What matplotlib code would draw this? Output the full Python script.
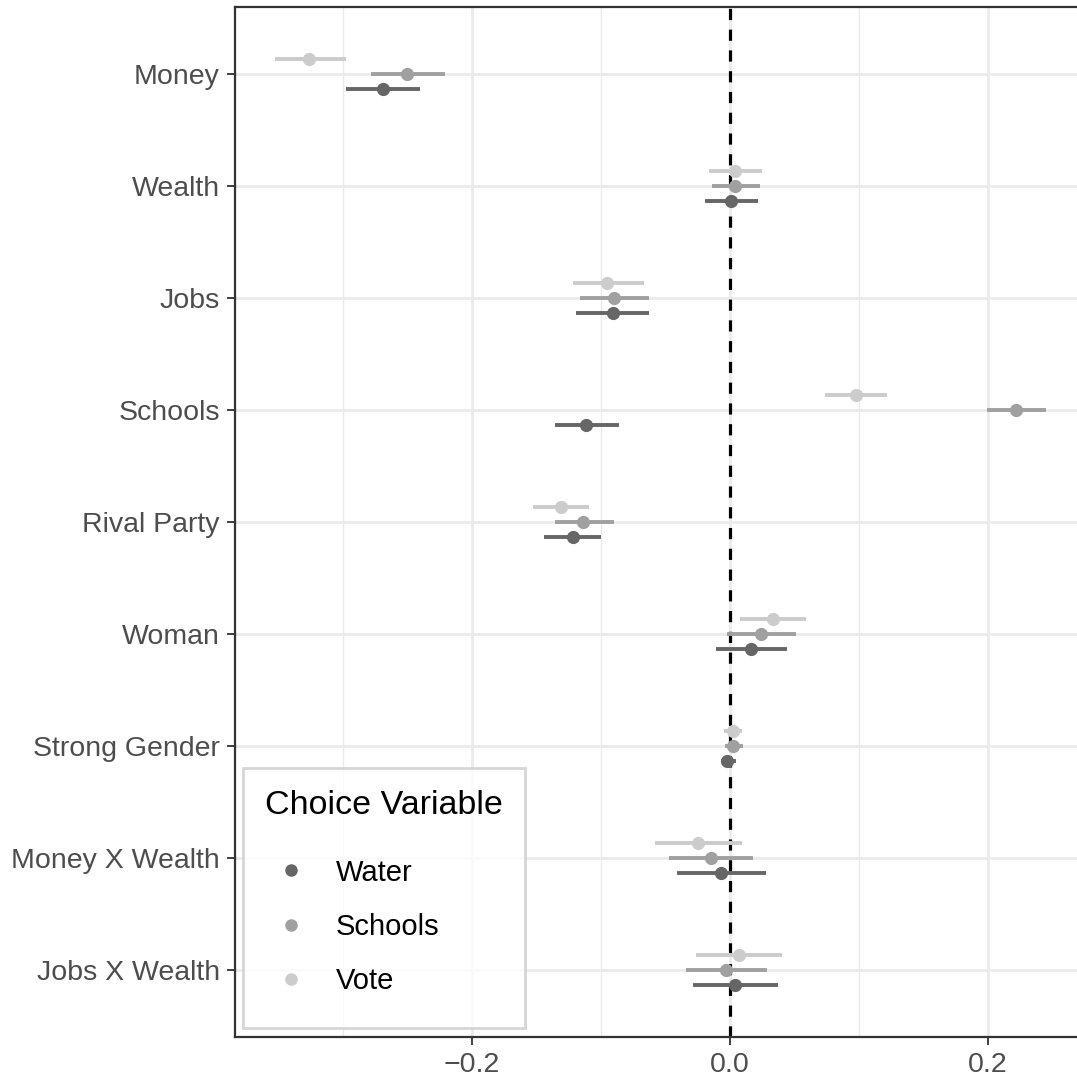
import numpy as np
import matplotlib.pyplot as plt
from matplotlib.lines import Line2D

# DATA

terms = ['Money', 'Wealth', 'Jobs', 'Schools', 'Rival Party', 'Woman',
         'Strong Gender', 'Money X Wealth', 'Jobs X Wealth']

water_est = [-0.269, 0.001, -0.091, -0.112, -0.122, 0.016, -0.002, -0.007, 0.004]
water_lo = [-0.298, -0.019, -0.119, -0.136, -0.144, -0.011, -0.007, -0.041, -0.029]
water_hi = [-0.240, 0.022, -0.063, -0.086, -0.100, 0.044, 0.005, 0.028, 0.037]

schools_est = [-0.250, 0.004, -0.090, 0.222, -0.114, 0.024, 0.002, -0.015, -0.003]
schools_lo = [-0.278, -0.014, -0.116, 0.199, -0.136, -0.002, -0.004, -0.047, -0.034]
schools_hi = [-0.221, 0.023, -0.063, 0.245, -0.090, 0.051, 0.010, 0.018, 0.029]

vote_est = [-0.326, 0.004, -0.095, 0.098, -0.131, 0.033, 0.002, -0.025, 0.007]
vote_lo = [-0.353, -0.016, -0.122, 0.074, -0.153, 0.008, -0.005, -0.058, -0.026]
vote_hi = [-0.298, 0.025, -0.067, 0.122, -0.109, 0.059, 0.009, 0.009, 0.040]

series = ['Water', 'Schools', 'Vote']
colors = {'Water': '#666666', 'Schools': '#a0a0a0', 'Vote': '#cccccc'}
offsets = {'Water': -0.135, 'Schools': 0.0, 'Vote': 0.135}

# PLOT

plt.rcParams['font.family'] = ['Liberation Sans', 'DejaVu Sans']

fig = plt.figure(figsize=(10.77, 10.8), dpi=100)
ax = fig.add_axes([235/1077, 1 - 1037/1080, 1 - 235/1077, (1037 - 7)/1080])

ypos = np.arange(len(terms), 0, -1)  # Money on top

# grid
for x in [-0.3, -0.1, 0.1]:
    ax.axvline(x, color='#ebebeb', lw=1.0, zorder=0)
for x in [-0.2, 0.0, 0.2]:
    ax.axvline(x, color='#ebebeb', lw=2.0, zorder=0)
for y in ypos:
    ax.axhline(y, color='#ebebeb', lw=2.0, zorder=0)

ax.axvline(0, color='black', lw=2.3, ls=(0, (3.5, 3)), zorder=1)

data = {
    'Water': (water_est, water_lo, water_hi),
    'Schools': (schools_est, schools_lo, schools_hi),
    'Vote': (vote_est, vote_lo, vote_hi),
}

for s in series:
    est, lo, hi = data[s]
    yy = ypos + offsets[s]
    ax.hlines(yy, lo, hi, color=colors[s], lw=2.8, zorder=2)
    ax.plot(est, yy, 'o', color=colors[s], ms=9.5, zorder=3, mec='none')

ax.set_xlim(-0.3837, 0.269)
ax.set_ylim(0.4, 9.6)
ax.set_xticks([-0.2, 0.0, 0.2])
ax.set_xticklabels(['\u22120.2', '0.0', '0.2'])
ax.set_yticks(ypos)
ax.set_yticklabels(terms)
ax.tick_params(axis='both', labelsize=20.5, colors='#333333', labelcolor='#4d4d4d',
               length=6, width=1.3)
ax.tick_params(axis='x', pad=5)
ax.tick_params(axis='y', pad=5)

for side in ['left', 'bottom', 'top']:
    ax.spines[side].set_color('#333333')
    ax.spines[side].set_linewidth(1.6)
ax.spines['right'].set_visible(False)

handles = [Line2D([], [], marker='o', ls='none', color=colors[s], ms=9, mec='none')
           for s in series]
leg = ax.legend(handles, series, title='Choice Variable', loc='lower left',
                bbox_to_anchor=(8/842, 9/1030), frameon=True, fontsize=21,
                title_fontsize=24.5, handlelength=1.0, handletextpad=1.04,
                labelspacing=0.9, borderpad=0.75, fancybox=False, borderaxespad=0)
leg.get_frame().set_edgecolor('#cccccc')
leg.get_frame().set_linewidth(2.0)
leg._legend_box.align = 'left'
# a bit of extra room round the keys, like the ggplot legend
leg._legend_handle_box.pad = 8

fig.savefig('out.png', dpi=100)
